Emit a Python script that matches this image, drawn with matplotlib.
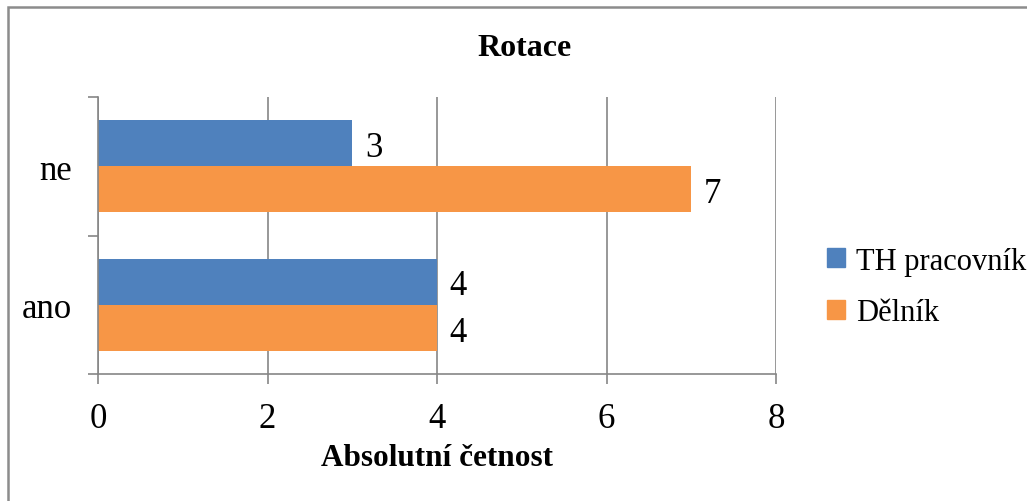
import numpy as np
import matplotlib.pyplot as plt
from matplotlib.patches import Rectangle, Patch

plt.rcParams['font.family'] = ['Liberation Serif', 'DejaVu Serif']

categories = ["ano", "ne"]
series_names = ["TH pracovník", "Dělník"]
th_values = [4, 3]
delnik_values = [4, 7]
x_ticks = [0, 2, 4, 6, 8]

blue = "#4F81BD"
orange = "#F79646"
grey = "#868686"

fig = plt.figure(figsize=(10.27, 5.02), dpi=100)
ax = fig.add_axes([98 / 1027, 1 - 375 / 502, 678 / 1027, 277 / 502])

# outer chart frame
fig.patches.append(Rectangle((8 / 1027, -0.1), 1.2, (502 - 8) / 502 + 0.1,
                             transform=fig.transFigure, fill=False,
                             edgecolor="#8C8C8C", linewidth=1.8))

y = np.arange(len(categories))
h = 1 / 3
bars_th = ax.barh(y + h / 2, th_values, height=h, color=blue, label=series_names[0])
bars_d = ax.barh(y - h / 2, delnik_values, height=h, color=orange, label=series_names[1])

for bars in (bars_th, bars_d):
    for b in bars:
        w = b.get_width()
        ax.annotate(f"{w:g}", (w, b.get_y() + b.get_height() / 2),
                    xytext=(9, -3), textcoords="offset points",
                    ha="left", va="center", fontsize=25)

ax.set_xlim(0, 8)
ax.set_ylim(-0.5, 1.5)
ax.set_xticks(x_ticks)
ax.set_xticklabels([str(t) for t in x_ticks])
ax.set_yticks(y)
ax.set_yticklabels(categories)
ax.set_yticks([-0.5, 0.5, 1.5], minor=True)
ax.tick_params(axis="y", which="major", length=0, pad=19, labelsize=25)
ax.tick_params(axis="y", which="minor", length=7, width=1.2, color=grey)
ax.tick_params(axis="x", length=7, width=1.2, color=grey, pad=13, labelsize=25)

ax.set_axisbelow(True)
ax.grid(axis="x", color=grey, linewidth=1.2)
for s in ("top", "right"):
    ax.spines[s].set_visible(False)
for s in ("left", "bottom"):
    ax.spines[s].set_color(grey)
    ax.spines[s].set_linewidth(1.2)

ax.set_xlabel("Absolutní četnost", fontsize=22.5, fontweight="bold", labelpad=6)
fig.text(525 / 1027, 1 - 48 / 502, "Rotace", fontsize=23, fontweight="bold",
         ha="center", va="center")

handles = [Patch(color=blue, label=series_names[0]),
           Patch(color=orange, label=series_names[1])]
fig.legend(handles=handles, loc="center left",
           bbox_to_anchor=(827 / 1027, 1 - 288 / 502), frameon=False,
           borderpad=0, borderaxespad=0,
           fontsize=22, handlelength=0.6, handleheight=0.6,
           handletextpad=0.35, labelspacing=0.75)

fig.savefig("out.png", dpi=100)
